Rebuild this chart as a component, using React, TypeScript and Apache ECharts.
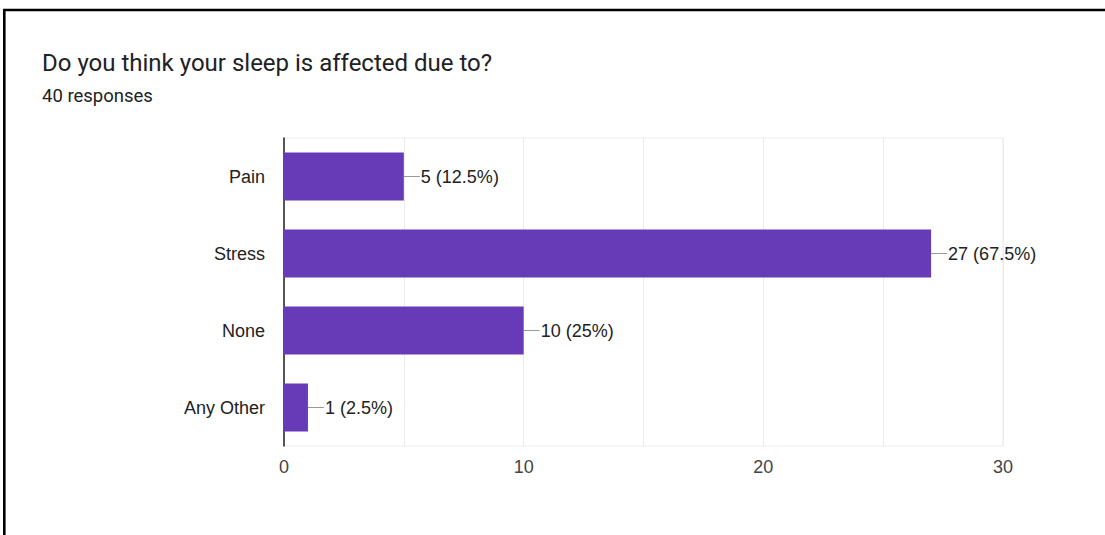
import React, { useEffect, useRef } from "react";
import * as echarts from "echarts";

const title = "Do you think your sleep is affected due to?";
const subtitle = "40 responses";
const totalResponses = 40;
const categories = ["Pain", "Stress", "None", "Any Other"];
const counts = [5, 27, 10, 1];
const xTicks = [0, 10, 20, 30];

const labelTexts = counts.map((c) => `${c} (${Math.round((c / totalResponses) * 1000) / 10}%)`);

export default function App() {
  const ref = useRef<HTMLDivElement>(null);
  useEffect(() => {
    if (!ref.current) return;
    const chart = echarts.init(ref.current, undefined, { renderer: "svg" });
    chart.setOption({
      animation: false,
      backgroundColor: "#ffffff",
      textStyle: { fontFamily: "Liberation Sans, Arial, sans-serif" },
      graphic: [
        {
          type: "rect",
          shape: { x: 4.3, y: 10, width: 1300, height: 800 },
          style: { fill: "none", stroke: "#000", lineWidth: 2.6 },
          silent: true,
        },
        {
          type: "text",
          x: 42,
          y: 63,
          style: {
            text: title,
            fill: "#202124",
            fontSize: 24,
            fontFamily: "Roboto",
            verticalAlign: "middle",
          },
        },
        {
          type: "text",
          x: 42,
          y: 96,
          style: {
            text: subtitle,
            fill: "#202124",
            fontSize: 18.5,
            fontFamily: "Roboto",
            verticalAlign: "middle",
          },
        },
      ],
      grid: {
        left: 284,
        top: 138,
        right: 102,
        bottom: 89,
        show: true,
        borderColor: "#ebebeb",
        borderWidth: 1,
      },
      xAxis: {
        type: "value",
        min: 0,
        max: 30,
        interval: 5,
        axisLine: { show: false },
        axisTick: { show: false },
        splitLine: { show: true, lineStyle: { color: "#ebebeb", width: 1 } },
        axisLabel: {
          color: "#444",
          fontSize: 18,
          margin: 12,
          formatter: (v: number) => (xTicks.includes(v) ? String(v) : ""),
        },
      },
      yAxis: {
        type: "category",
        inverse: true,
        data: categories,
        axisLine: { show: true, onZero: false, lineStyle: { color: "#222", width: 1.5 } },
        axisTick: { show: false },
        splitLine: { show: false },
        axisLabel: { color: "#222", fontSize: 18, margin: 19 },
      },
      series: [
        {
          type: "bar",
          data: counts,
          barWidth: 48,
          itemStyle: { color: "#673ab7" },
          silent: true,
        },
        {
          type: "custom",
          data: counts.map((c, i) => [c, i]),
          encode: { x: 0, y: 1 },
          silent: true,
          z: 5,
          renderItem: (params: any, api: any) => {
            const v = api.value(0);
            const idx = api.value(1);
            const p = api.coord([v, idx]);
            return {
              type: "group",
              children: [
                {
                  type: "line",
                  shape: { x1: p[0], y1: p[1], x2: p[0] + 16, y2: p[1] },
                  style: { stroke: "#999", lineWidth: 1 },
                },
                {
                  type: "text",
                  x: p[0] + 17,
                  y: p[1],
                  style: {
                    text: labelTexts[params.dataIndex],
                    fill: "#222",
                    fontSize: 18,
                    fontFamily: "Liberation Sans, Arial, sans-serif",
                    align: "left",
                    verticalAlign: "middle",
                  },
                },
              ],
            };
          },
        },
      ],
    });
    return () => chart.dispose();
  }, []);
  return (
    <div
      ref={ref}
      style={{ position: "fixed", left: 0, top: 0, width: 1105, height: 535 }}
    />
  );
}
